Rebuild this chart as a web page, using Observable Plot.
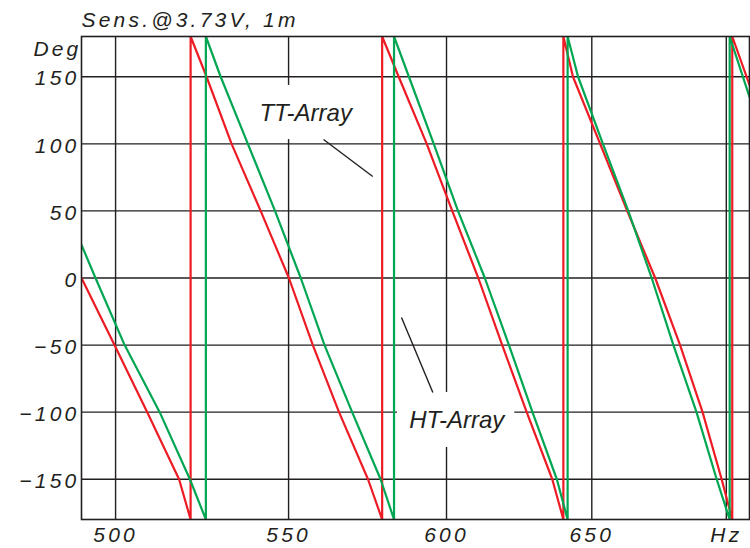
<!DOCTYPE html>
<html><head><meta charset="utf-8">
<script src="https://cdn.jsdelivr.net/npm/d3@7"></script>
<script src="https://cdn.jsdelivr.net/npm/@observablehq/plot@0.6"></script>
<style>
html,body{margin:0;padding:0;background:#fff;}
</style>
</head><body><div id="chart"></div>
<script>
const title = "Sens.@3.73V, 1m";
const yUnit = "Deg";
const xUnit = "Hz";
const xTicks = [500, 550, 600, 650, 700];
const yTicks = [-150, -100, -50, 0, 50, 100, 150];

// TT-Array (red)
const ttFreq = [490.7, 499.7, 508.8, 517.8, 521.1, 521.1, 525.7, 533.0, 541.6, 550.1, 557.4, 565.5, 574.6, 579.1, 579.1, 584.4, 593.5, 601.9, 610.6, 618.7, 627.1, 636.0, 639.9, 639.9, 643.3, 653.0, 662.8, 673.1, 682.4, 690.9, 698.2, 702.3, 702.3, 709.0];
const ttDeg  = [0, -50, -100, -150, -180, 180, 150, 100, 50, 0, -50, -100, -150, -180, 180, 150, 100, 50, 0, -50, -100, -150, -180, 180, 150, 100, 50, 0, -50, -100, -150, -180, 180, 144];

// HT-Array (green)
const htFreq = [490.7, 494.5, 502.5, 512.3, 520.9, 525.5, 525.5, 529.8, 537.8, 545.9, 553.7, 561.0, 569.6, 578.6, 582.9, 582.9, 587.7, 595.8, 603.8, 612.8, 621.0, 629.1, 637.6, 641.4, 641.4, 645.1, 654.0, 663.2, 671.8, 679.9, 688.6, 696.3, 701.3, 701.3, 709.0];
const htDeg  = [24.7, 0, -50, -100, -150, -180, 180, 150, 100, 50, 0, -50, -100, -150, -180, 180, 150, 100, 50, 0, -50, -100, -150, -180, 180, 150, 100, 50, 0, -50, -100, -150, -180, 180, 135];

// annotations (data units)
const labelNames = ["TT-Array", "HT-Array"];
const labelFreq = [555.2, 603.4];
const labelDeg = [122.6, -106.2];
const boxFreq1 = [539.2, 584.0], boxFreq2 = [571.6, 623.0];
const boxDeg1 = [103.2, -126.3], boxDeg2 = [143.5, -85.3];
const leadFreq1 = [560.7, 585.3], leadDeg1 = [103.2, -29.4];
const leadFreq2 = [576.1, 595.5], leadDeg2 = [75.7, -85.3];

const tt = ttFreq.map((f, i) => ({f, d: ttDeg[i]}));
const ht = htFreq.map((f, i) => ({f, d: htDeg[i]}));
const labels = labelNames.map((t, i) => ({t, f: labelFreq[i], d: labelDeg[i]}));
const boxes = boxFreq1.map((f1, i) => ({f1, f2: boxFreq2[i], d1: boxDeg1[i], d2: boxDeg2[i]}));
const leads = leadFreq1.map((f1, i) => ({f1, d1: leadDeg1[i], f2: leadFreq2[i], d2: leadDeg2[i]}));

const ink = "#231f20";
const red = "#ed1c24";
const green = "#00a651";

const chart = Plot.plot({
  width: 750,
  height: 548,
  marginLeft: 81,
  marginRight: 1,
  marginTop: 36,
  marginBottom: 29,
  style: {fontFamily: "'Liberation Sans', Arial, sans-serif", fontStyle: "italic", fontSize: "21px", color: ink, background: "#fff"},
  x: {type: "log", domain: [490.7, 709.0]},
  y: {domain: [-180, 180]},
  marks: [
    Plot.gridX(xTicks, {stroke: ink, strokeOpacity: 1, strokeWidth: 1.4}),
    Plot.gridY(yTicks, {stroke: ink, strokeOpacity: 1, strokeWidth: 1.4}),
    Plot.rect(boxes, {x1: "f1", x2: "f2", y1: "d1", y2: "d2", fill: "white"}),
    Plot.line(tt, {x: "f", y: "d", stroke: red, strokeWidth: 2.2, clip: true}),
    Plot.line(ht, {x: "f", y: "d", stroke: green, strokeWidth: 2.2, clip: true}),
    Plot.link(leads, {x1: "f1", y1: "d1", x2: "f2", y2: "d2", stroke: ink, strokeWidth: 1.4}),
    Plot.text(labels, {x: "f", y: "d", text: "t", fontSize: 24, fill: ink, textAnchor: "middle", lineAnchor: "middle"}),
    Plot.frame({stroke: ink, strokeWidth: 1.6}),
    Plot.axisX(xTicks, {tickSize: 0, tickPadding: 8, tickFormat: d => d === 700 ? xUnit : String(d), label: null, fill: ink}),
    Plot.axisY(yTicks, {tickSize: 0, tickPadding: 2, dy: 2, label: null, fill: ink}),
    Plot.text([yUnit], {frameAnchor: "top-left", textAnchor: "end", lineAnchor: "bottom", dx: 0, dy: 19, fill: ink}),
    Plot.text([title], {frameAnchor: "top-left", textAnchor: "start", lineAnchor: "bottom", dx: 0, dy: -10, fill: ink})
  ]
});
document.getElementById("chart").appendChild(chart);
d3.select(chart).selectAll("text").filter(function(d) {
  const t = this.textContent;
  return t !== "TT-Array" && t !== "HT-Array";
}).style("letter-spacing", "3.2px");
</script>
</body></html>
